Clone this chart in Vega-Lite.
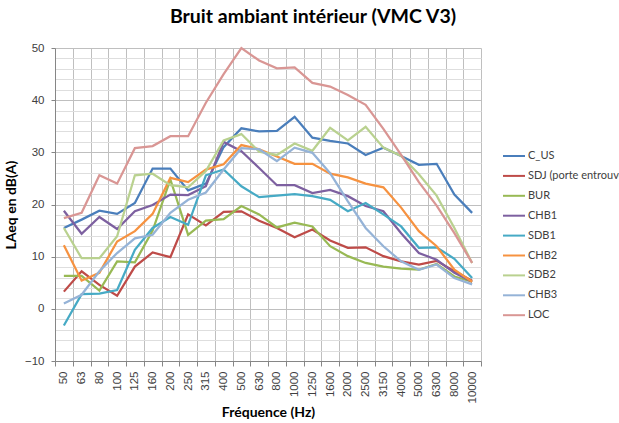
{
  "$schema": "https://vega.github.io/schema/vega-lite/v6.json",
  "width": 426,
  "height": 313,
  "autosize": {"type": "none"},
  "padding": {"left": 55, "top": 48, "right": 138, "bottom": 62},
  "background": "white",
  "title": {
    "text": "Bruit ambiant intérieur (VMC V3)",
    "font": "Lato",
    "fontSize": 19.5,
    "fontWeight": "bold",
    "color": "#000000",
    "anchor": "middle",
    "dx": 45,
    "offset": 15
  },
  "config": {
    "view": {"stroke": null},
    "axis": {"labelFont": "Liberation Sans", "labelFontSize": 11.5, "labelColor": "#404040", "titleFont": "Lato", "titleFontSize": 14, "titleFontWeight": "bold", "titleColor": "#000000"}
  },
  "data": {
    "values": [
      {"f":"50","s":"C_US","v":15.5},{"f":"63","s":"C_US","v":17.1},{"f":"80","s":"C_US","v":18.8},{"f":"100","s":"C_US","v":18.2},{"f":"125","s":"C_US","v":20.3},{"f":"160","s":"C_US","v":26.9},{"f":"200","s":"C_US","v":26.9},{"f":"250","s":"C_US","v":22.7},{"f":"315","s":"C_US","v":24},{"f":"400","s":"C_US","v":31},{"f":"500","s":"C_US","v":34.6},{"f":"630","s":"C_US","v":34},{"f":"800","s":"C_US","v":34.1},{"f":"1000","s":"C_US","v":36.8},{"f":"1250","s":"C_US","v":32.8},{"f":"1600","s":"C_US","v":32.2},{"f":"2000","s":"C_US","v":31.7},{"f":"2500","s":"C_US","v":29.5},{"f":"3150","s":"C_US","v":30.9},{"f":"4000","s":"C_US","v":29.3},{"f":"5000","s":"C_US","v":27.6},{"f":"6300","s":"C_US","v":27.8},{"f":"8000","s":"C_US","v":21.9},{"f":"10000","s":"C_US","v":18.4},
      {"f":"50","s":"SDJ (porte entrouverte)","v":3.3},{"f":"63","s":"SDJ (porte entrouverte)","v":7.2},{"f":"80","s":"SDJ (porte entrouverte)","v":4.6},{"f":"100","s":"SDJ (porte entrouverte)","v":2.5},{"f":"125","s":"SDJ (porte entrouverte)","v":8.1},{"f":"160","s":"SDJ (porte entrouverte)","v":10.8},{"f":"200","s":"SDJ (porte entrouverte)","v":9.9},{"f":"250","s":"SDJ (porte entrouverte)","v":18.1},{"f":"315","s":"SDJ (porte entrouverte)","v":16},{"f":"400","s":"SDJ (porte entrouverte)","v":18.6},{"f":"500","s":"SDJ (porte entrouverte)","v":18.7},{"f":"630","s":"SDJ (porte entrouverte)","v":16.9},{"f":"800","s":"SDJ (porte entrouverte)","v":15.5},{"f":"1000","s":"SDJ (porte entrouverte)","v":13.7},{"f":"1250","s":"SDJ (porte entrouverte)","v":15.2},{"f":"1600","s":"SDJ (porte entrouverte)","v":13.1},{"f":"2000","s":"SDJ (porte entrouverte)","v":11.7},{"f":"2500","s":"SDJ (porte entrouverte)","v":11.8},{"f":"3150","s":"SDJ (porte entrouverte)","v":10.1},{"f":"4000","s":"SDJ (porte entrouverte)","v":9.1},{"f":"5000","s":"SDJ (porte entrouverte)","v":8.5},{"f":"6300","s":"SDJ (porte entrouverte)","v":9.2},{"f":"8000","s":"SDJ (porte entrouverte)","v":7.2},{"f":"10000","s":"SDJ (porte entrouverte)","v":5.4},
      {"f":"50","s":"BUR","v":6.3},{"f":"63","s":"BUR","v":6.3},{"f":"80","s":"BUR","v":3.5},{"f":"100","s":"BUR","v":9.1},{"f":"125","s":"BUR","v":8.9},{"f":"160","s":"BUR","v":15},{"f":"200","s":"BUR","v":24.8},{"f":"250","s":"BUR","v":14.2},{"f":"315","s":"BUR","v":16.9},{"f":"400","s":"BUR","v":17.2},{"f":"500","s":"BUR","v":19.7},{"f":"630","s":"BUR","v":18.1},{"f":"800","s":"BUR","v":15.6},{"f":"1000","s":"BUR","v":16.5},{"f":"1250","s":"BUR","v":15.8},{"f":"1600","s":"BUR","v":12},{"f":"2000","s":"BUR","v":10.1},{"f":"2500","s":"BUR","v":8.8},{"f":"3150","s":"BUR","v":8.1},{"f":"4000","s":"BUR","v":7.7},{"f":"5000","s":"BUR","v":7.5},{"f":"6300","s":"BUR","v":8.6},{"f":"8000","s":"BUR","v":6.2},{"f":"10000","s":"BUR","v":5.2},
      {"f":"50","s":"CHB1","v":18.8},{"f":"63","s":"CHB1","v":14.4},{"f":"80","s":"CHB1","v":17.6},{"f":"100","s":"CHB1","v":15.3},{"f":"125","s":"CHB1","v":18.7},{"f":"160","s":"CHB1","v":19.9},{"f":"200","s":"CHB1","v":21.9},{"f":"250","s":"CHB1","v":21.8},{"f":"315","s":"CHB1","v":23.5},{"f":"400","s":"CHB1","v":32},{"f":"500","s":"CHB1","v":30.2},{"f":"630","s":"CHB1","v":27},{"f":"800","s":"CHB1","v":23.7},{"f":"1000","s":"CHB1","v":23.7},{"f":"1250","s":"CHB1","v":22.2},{"f":"1600","s":"CHB1","v":22.8},{"f":"2000","s":"CHB1","v":21.6},{"f":"2500","s":"CHB1","v":19.7},{"f":"3150","s":"CHB1","v":18.7},{"f":"4000","s":"CHB1","v":14.5},{"f":"5000","s":"CHB1","v":10.7},{"f":"6300","s":"CHB1","v":9.4},{"f":"8000","s":"CHB1","v":6.9},{"f":"10000","s":"CHB1","v":5.2},
      {"f":"50","s":"SDB1","v":-3.2},{"f":"63","s":"SDB1","v":2.8},{"f":"80","s":"SDB1","v":2.9},{"f":"100","s":"SDB1","v":3.6},{"f":"125","s":"SDB1","v":11.3},{"f":"160","s":"SDB1","v":15.5},{"f":"200","s":"SDB1","v":17.6},{"f":"250","s":"SDB1","v":16.1},{"f":"315","s":"SDB1","v":25.6},{"f":"400","s":"SDB1","v":26.7},{"f":"500","s":"SDB1","v":23.5},{"f":"630","s":"SDB1","v":21.4},{"f":"800","s":"SDB1","v":21.7},{"f":"1000","s":"SDB1","v":22},{"f":"1250","s":"SDB1","v":21.6},{"f":"1600","s":"SDB1","v":20.9},{"f":"2000","s":"SDB1","v":18.7},{"f":"2500","s":"SDB1","v":20.3},{"f":"3150","s":"SDB1","v":18.1},{"f":"4000","s":"SDB1","v":15.8},{"f":"5000","s":"SDB1","v":11.7},{"f":"6300","s":"SDB1","v":11.8},{"f":"8000","s":"SDB1","v":9.6},{"f":"10000","s":"SDB1","v":5.9},
      {"f":"50","s":"CHB2","v":12.2},{"f":"63","s":"CHB2","v":5.4},{"f":"80","s":"CHB2","v":6.9},{"f":"100","s":"CHB2","v":12.9},{"f":"125","s":"CHB2","v":14.9},{"f":"160","s":"CHB2","v":18.2},{"f":"200","s":"CHB2","v":25.1},{"f":"250","s":"CHB2","v":24.3},{"f":"315","s":"CHB2","v":26.7},{"f":"400","s":"CHB2","v":27.7},{"f":"500","s":"CHB2","v":31.4},{"f":"630","s":"CHB2","v":30.6},{"f":"800","s":"CHB2","v":29.2},{"f":"1000","s":"CHB2","v":27.8},{"f":"1250","s":"CHB2","v":27.8},{"f":"1600","s":"CHB2","v":25.9},{"f":"2000","s":"CHB2","v":25.2},{"f":"2500","s":"CHB2","v":24},{"f":"3150","s":"CHB2","v":23.3},{"f":"4000","s":"CHB2","v":19.4},{"f":"5000","s":"CHB2","v":14.9},{"f":"6300","s":"CHB2","v":12},{"f":"8000","s":"CHB2","v":7.5},{"f":"10000","s":"CHB2","v":5.2},
      {"f":"50","s":"SDB2","v":15.5},{"f":"63","s":"SDB2","v":9.7},{"f":"80","s":"SDB2","v":9.7},{"f":"100","s":"SDB2","v":13.9},{"f":"125","s":"SDB2","v":25.6},{"f":"160","s":"SDB2","v":25.9},{"f":"200","s":"SDB2","v":23.7},{"f":"250","s":"SDB2","v":23.3},{"f":"315","s":"SDB2","v":26.4},{"f":"400","s":"SDB2","v":32.3},{"f":"500","s":"SDB2","v":33.5},{"f":"630","s":"SDB2","v":30.1},{"f":"800","s":"SDB2","v":29.5},{"f":"1000","s":"SDB2","v":31.7},{"f":"1250","s":"SDB2","v":30.3},{"f":"1600","s":"SDB2","v":34.7},{"f":"2000","s":"SDB2","v":32.3},{"f":"2500","s":"SDB2","v":34.9},{"f":"3150","s":"SDB2","v":30.9},{"f":"4000","s":"SDB2","v":29.3},{"f":"5000","s":"SDB2","v":25.8},{"f":"6300","s":"SDB2","v":21.7},{"f":"8000","s":"SDB2","v":15.5},{"f":"10000","s":"SDB2","v":8.8},
      {"f":"50","s":"CHB3","v":1},{"f":"63","s":"CHB3","v":2.7},{"f":"80","s":"CHB3","v":7.2},{"f":"100","s":"CHB3","v":10.7},{"f":"125","s":"CHB3","v":13.5},{"f":"160","s":"CHB3","v":14.2},{"f":"200","s":"CHB3","v":18.4},{"f":"250","s":"CHB3","v":20.9},{"f":"315","s":"CHB3","v":22.3},{"f":"400","s":"CHB3","v":26.7},{"f":"500","s":"CHB3","v":30.8},{"f":"630","s":"CHB3","v":30.6},{"f":"800","s":"CHB3","v":28.3},{"f":"1000","s":"CHB3","v":30.9},{"f":"1250","s":"CHB3","v":29.9},{"f":"1600","s":"CHB3","v":26},{"f":"2000","s":"CHB3","v":20.6},{"f":"2500","s":"CHB3","v":15.5},{"f":"3150","s":"CHB3","v":12},{"f":"4000","s":"CHB3","v":9.1},{"f":"5000","s":"CHB3","v":7.5},{"f":"6300","s":"CHB3","v":8.5},{"f":"8000","s":"CHB3","v":5.9},{"f":"10000","s":"CHB3","v":4.7},
      {"f":"50","s":"LOC","v":17.4},{"f":"63","s":"LOC","v":18.4},{"f":"80","s":"LOC","v":25.6},{"f":"100","s":"LOC","v":24},{"f":"125","s":"LOC","v":30.8},{"f":"160","s":"LOC","v":31.2},{"f":"200","s":"LOC","v":33.1},{"f":"250","s":"LOC","v":33.1},{"f":"315","s":"LOC","v":39.5},{"f":"400","s":"LOC","v":45},{"f":"500","s":"LOC","v":50},{"f":"630","s":"LOC","v":47.6},{"f":"800","s":"LOC","v":46.1},{"f":"1000","s":"LOC","v":46.3},{"f":"1250","s":"LOC","v":43.3},{"f":"1600","s":"LOC","v":42.6},{"f":"2000","s":"LOC","v":41},{"f":"2500","s":"LOC","v":39.1},{"f":"3150","s":"LOC","v":34.5},{"f":"4000","s":"LOC","v":29.5},{"f":"5000","s":"LOC","v":24.3},{"f":"6300","s":"LOC","v":19.8},{"f":"8000","s":"LOC","v":14.5},{"f":"10000","s":"LOC","v":8.8}
    ]
  },
  "mark": {"type": "line", "strokeWidth": 2.25, "clip": false},
  "encoding": {
    "x": {
      "field": "f",
      "type": "ordinal",
      "sort": ["50","63","80","100","125","160","200","250","315","400","500","630","800","1000","1250","1600","2000","2500","3150","4000","5000","6300","8000","10000"],
      "scale": {"paddingInner": 0, "paddingOuter": 0},
      "axis": {
        "title": "Fréquence (Hz)",
        "titlePadding": 3,
        "labelAngle": -90,
        "labelPadding": 5,
        "tickBand": "extent",
        "tickSize": 5,
        "tickColor": "#868686",
        "domainColor": "#868686",
        "grid": true,
        "gridColor": "#bfbfbf",
        "gridWidth": 1
      }
    },
    "y": {
      "field": "v",
      "type": "quantitative",
      "scale": {"domain": [-10, 50], "nice": false, "zero": false},
      "axis": {
        "title": "LAeq en dB(A)",
        "titlePadding": 6,
        "values": [-10,-8,-6,-4,-2,0,2,4,6,8,10,12,14,16,18,20,22,24,26,28,30,32,34,36,38,40,42,44,46,48,50],
        "labelExpr": "datum.value % 10 === 0 ? datum.label : ''",
        "labelPadding": 7,
        "tickSize": 4,
        "tickColor": {"condition": {"test": "datum.value % 10 === 0", "value": "#868686"}, "value": "transparent"},
        "domainColor": "#868686",
        "grid": true,
        "gridColor": {"condition": {"test": "datum.value % 10 === 0", "value": "#bfbfbf"}, "value": "#dedede"},
        "gridWidth": 1
      }
    },
    "color": {
      "field": "s",
      "type": "nominal",
      "sort": null,
      "scale": {
        "domain": ["C_US","SDJ (porte entrouverte)","BUR","CHB1","SDB1","CHB2","SDB2","CHB3","LOC"],
        "range": ["#4a7ebb","#be4b48","#98b954","#7d60a0","#46aac5","#f69240","#b9d18f","#95b3d7","#d99694"]
      },
      "legend": {
        "title": null,
        "orient": "none",
        "legendX": 447,
        "legendY": 96,
        "symbolType": "stroke",
        "symbolSize": 484,
        "symbolStrokeWidth": 2,
        "rowPadding": 2.9,
        "labelFont": "Lato",
        "labelFontSize": 11,
        "labelColor": "#404040",
        "labelOffset": 2,
        "labelLimit": 300
      }
    }
  }
}
